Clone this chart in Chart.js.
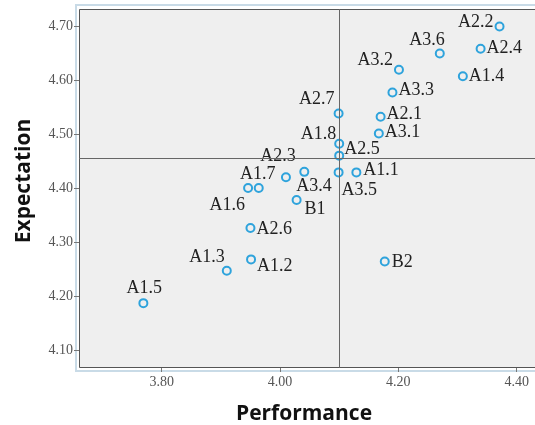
<!DOCTYPE html>
<html>
<head>
<meta charset="utf-8">
<script src="https://cdn.jsdelivr.net/npm/chart.js@4.4.1/dist/chart.umd.min.js"></script>
<style>
html,body{margin:0;padding:0;background:#fff;overflow:hidden;}
#wrap{position:relative;width:535px;height:425px;}
</style>
</head>
<body>
<div id="wrap"><canvas id="c"></canvas></div>
<script>
// ---- data ----
const pointLabels = ['A2.2','A2.4','A3.6','A1.4','A3.2','A3.3','A2.1','A3.1','A2.7','A1.8','A2.5','A3.5','A1.1','A3.4','A2.3','A1.7','A1.6','B1','A2.6','A1.3','A1.2','A1.5','B2'];
const performance = [4.371,4.339,4.270,4.309,4.201,4.190,4.170,4.167,4.099,4.100,4.100,4.099,4.129,4.041,4.010,3.964,3.946,4.028,3.950,3.910,3.951,3.769,4.177];
const expectation = [4.700,4.659,4.650,4.608,4.620,4.578,4.533,4.502,4.539,4.483,4.461,4.430,4.430,4.431,4.421,4.401,4.401,4.379,4.327,4.248,4.269,4.188,4.265];
const xTicks = [3.80,4.00,4.20,4.40];
const yTicks = [4.10,4.20,4.30,4.40,4.50,4.60,4.70];
const refPerformance = 4.10;
const refExpectation = 4.457;
const xTitle = 'Performance';
const yTitle = 'Expectation';

// label placement (style only): [dx, dy, align]
const labelPlacement = {
  'A2.2':[-6,-4,'right'], 'A2.4':[6,0,'left'], 'A3.6':[5,-13,'right'], 'A1.4':[6,0,'left'],
  'A3.2':[-6,-9,'right'], 'A3.3':[6,-2,'left'], 'A2.1':[6,-2,'left'], 'A3.1':[6,-1,'left'],
  'A2.7':[-4,-14,'right'], 'A1.8':[-3,-9,'right'], 'A2.5':[5,-6,'left'], 'A3.5':[3,18,'left'],
  'A1.1':[7,-2,'left'], 'A3.4':[-8,14,'left'], 'A2.3':[-8,-21,'center'], 'A1.7':[-1,-14,'center'],
  'A1.6':[-3,17,'right'], 'B1':[8,9,'left'], 'A2.6':[6,1,'left'], 'A1.3':[-2,-13,'right'],
  'A1.2':[6,7,'left'], 'A1.5':[1,-15,'center'], 'B2':[7,1,'left']
};

const points = performance.map((p,i)=>({x:p, y:expectation[i]}));

const framePlugin = {
  id:'frame',
  beforeDraw(chart){
    const {ctx, chartArea:a, width} = chart;
    ctx.save();
    ctx.fillStyle = '#efefef';
    ctx.fillRect(a.left, a.top, width - a.left, a.bottom-a.top);
    ctx.strokeStyle = '#c9dbe7';
    ctx.lineWidth = 2;
    ctx.beginPath();
    ctx.moveTo(width+5, a.top-4);
    ctx.lineTo(a.left-3, a.top-4);
    ctx.lineTo(a.left-3, a.bottom+3);
    ctx.lineTo(width+5, a.bottom+3);
    ctx.stroke();
    ctx.restore();
  },
  afterDraw(chart){
    const {ctx, chartArea:a, scales, width} = chart;
    ctx.save();
    // plot border: top, left, bottom (open on the right)
    ctx.strokeStyle = '#555';
    ctx.lineWidth = 1;
    ctx.beginPath();
    ctx.moveTo(width, a.top+0.5);
    ctx.lineTo(a.left+0.5, a.top+0.5);
    ctx.lineTo(a.left+0.5, a.bottom-0.5);
    ctx.lineTo(width, a.bottom-0.5);
    ctx.stroke();
    // reference lines
    ctx.strokeStyle = '#666';
    const xp = Math.round(scales.x.getPixelForValue(refPerformance))+0.5;
    const yp = Math.round(scales.y.getPixelForValue(refExpectation))+0.5;
    ctx.beginPath();
    ctx.moveTo(xp, a.top); ctx.lineTo(xp, a.bottom);
    ctx.moveTo(a.left, yp); ctx.lineTo(width, yp);
    ctx.stroke();
    // y axis title
    ctx.font = 'bold 21px "Open Sans"';
    ctx.fillStyle = '#111';
    ctx.textAlign = 'center';
    ctx.textBaseline = 'middle';
    ctx.translate(24, 181);
    ctx.rotate(-Math.PI/2);
    ctx.fillText(yTitle, 0, 0);
    ctx.restore();
  }
};

const labelPlugin = {
  id:'pointText',
  afterDatasetsDraw(chart){
    const {ctx} = chart;
    const meta = chart.getDatasetMeta(0);
    ctx.save();
    ctx.font = '18px "Liberation Serif"';
    ctx.fillStyle = '#222';
    ctx.textBaseline = 'middle';
    meta.data.forEach((el,i)=>{
      const name = pointLabels[i];
      const pl = labelPlacement[name] || [6,0,'left'];
      ctx.textAlign = pl[2];
      ctx.fillText(name, el.x + pl[0], el.y + pl[1]);
    });
    ctx.restore();
  }
};

new Chart(document.getElementById('c'), {
  type:'scatter',
  data:{ datasets:[{
    data: points,
    pointStyle:'circle',
    pointRadius:4,
    pointHoverRadius:4,
    borderWidth:2,
    borderColor:'#2ea3dc',
    backgroundColor:'rgba(0,0,0,0)'
  }]},
  options:{
    responsive:true,
    maintainAspectRatio:false,
    animation:false,
    events:[],
    layout:{padding:{top:9,right:0,left:0,bottom:0}},
    plugins:{legend:{display:false}, tooltip:{enabled:false}},
    scales:{
      x:{
        type:'linear', min:3.6602, max:4.4208,
        afterBuildTicks(s){ s.ticks = xTicks.map(v=>({value:v})); },
        afterFit(s){ s.height = 57; s.paddingLeft = 0; s.paddingRight = 0; },
        ticks:{ callback:v=>Number(v).toFixed(2), font:{family:'"Liberation Serif"', size:14}, color:'#555', padding:2, maxRotation:0 },
        grid:{ drawOnChartArea:false, drawTicks:true, tickLength:4, color:'#777' },
        border:{ display:false },
        title:{ display:true, text:xTitle, font:{family:'"Open Sans"', size:21, weight:'bold'}, color:'#111', padding:{top:0,bottom:-2} }
      },
      y:{
        type:'linear', min:4.068, max:4.7324,
        afterBuildTicks(s){ s.ticks = yTicks.map(v=>({value:v})); },
        afterFit(s){ s.width = 79; s.paddingTop = 0; s.paddingBottom = 0; },
        ticks:{ callback:v=>Number(v).toFixed(2), font:{family:'"Liberation Serif"', size:14}, color:'#555', padding:1 },
        grid:{ drawOnChartArea:false, drawTicks:true, tickLength:5, color:'#777' },
        border:{ display:false },
        title:{ display:false }
      }
    }
  },
  plugins:[framePlugin, labelPlugin]
});
</script>
</body>
</html>
